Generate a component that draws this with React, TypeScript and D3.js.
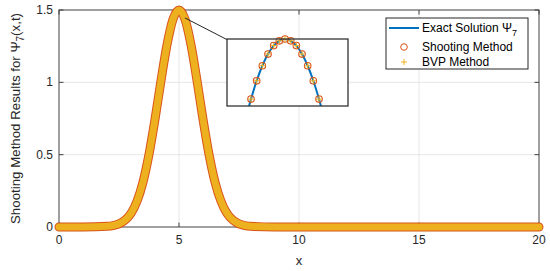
import React from "react";
import * as d3 from "d3";

// main curve (x, value)
const xVals = [0, 1, 2, 2.25, 2.5, 2.75, 3, 3.25, 3.5, 3.75, 4, 4.25, 4.5, 4.75, 5, 5.25, 5.5, 5.75, 6, 6.25, 6.5, 6.75, 7, 7.25, 7.5, 7.75, 8, 9, 10, 12, 14, 16, 18, 20];
const yVals = [0, 0.0003, 0.005, 0.01, 0.022, 0.047, 0.094, 0.178, 0.311, 0.502, 0.745, 1.012, 1.259, 1.436, 1.5, 1.436, 1.259, 1.012, 0.745, 0.502, 0.311, 0.178, 0.094, 0.047, 0.022, 0.01, 0.005, 0.0003, 0, 0, 0, 0, 0, 0];

// zoomed inset around the peak
const insetLineX = [4.8, 4.825, 4.85, 4.875, 4.9, 4.925, 4.95, 4.975, 5, 5.025, 5.05, 5.075, 5.1, 5.125, 5.15, 5.175, 5.2];
const insetLineY = [1.4592, 1.4682, 1.4764, 1.4836, 1.4895, 1.4941, 1.4974, 1.4993, 1.5, 1.4993, 1.4974, 1.4941, 1.4895, 1.4836, 1.4764, 1.4682, 1.4592];
const insetMarkX = [4.85, 4.875, 4.9, 4.925, 4.95, 4.975, 5, 5.025, 5.05, 5.075, 5.1, 5.125, 5.15];
const insetMarkY = [1.4764, 1.4836, 1.4895, 1.4941, 1.4974, 1.4993, 1.5, 1.4993, 1.4974, 1.4941, 1.4895, 1.4836, 1.4764];

const xTicks = [0, 5, 10, 15, 20];
const yTicks = [0, 0.5, 1, 1.5];
const yTickLabels = ["0", "0.5", "1", "1.5"];
const legendLabels = ["Exact Solution \u03A8", "Shooting Method", "BVP Method"];

// arrow from peak to inset (data units)
const arrowFrom = [5.25, 1.445];
const arrowTo = [8.08, 1.203];

const BLUE = "#0072BD";
const RED = "#D95319";
const YELLOW = "#EDB120";
const AX = "#404040";
const FONT = "'Liberation Sans', Arial, sans-serif";

export default function App() {
  const left = 59, right = 539, top = 10, bottom = 227;
  const x = d3.scaleLinear().domain([0, 20]).range([left, right]);
  const y = d3.scaleLinear().domain([0, 1.5]).range([bottom, top]);

  const pts = xVals.map((v, i) => [v, yVals[i]] as [number, number]);
  const line = d3
    .line<[number, number]>()
    .x((d) => x(d[0]))
    .y((d) => y(d[1]))
    .curve(d3.curveMonotoneX);
  const path = line(pts) || "";

  // inset axes
  const iL = 227, iR = 348, iT = 39, iB = 106;
  const ix = d3.scaleLinear().domain([4.744, 5.278]).range([iL, iR]);
  const iy = d3.scaleLinear().domain([1.4737, 1.5]).range([iB, iT]);
  const iLine = d3
    .line<[number, number]>()
    .x((d) => ix(d[0]))
    .y((d) => iy(d[1]))
    .curve(d3.curveCatmullRom);
  const iPath = iLine(insetLineX.map((v, i) => [v, insetLineY[i]] as [number, number])) || "";

  const ax1 = x(arrowFrom[0]), ay1 = y(arrowFrom[1]);
  const ax2 = x(arrowTo[0]), ay2 = y(arrowTo[1]);
  const ang = Math.atan2(ay2 - ay1, ax2 - ax1);
  const hl = 10, hw = 3.5;
  const bx = ax2 - hl * Math.cos(ang), by = ay2 - hl * Math.sin(ang);
  const head = [
    [ax2, ay2],
    [bx + hw * Math.sin(ang), by - hw * Math.cos(ang)],
    [bx - hw * Math.sin(ang), by + hw * Math.cos(ang)],
  ]
    .map((p) => p.join(","))
    .join(" ");

  const lgL = 386, lgR = 528, lgT = 18, lgB = 69;
  const rowY = [28, 47, 62];

  return (
    <svg width={550} height={271} style={{ position: "absolute", left: 0, top: 0 }} fontFamily={FONT}>
      <defs>
        <clipPath id="insetClip">
          <rect x={iL} y={iT} width={iR - iL} height={iB - iT} />
        </clipPath>
      </defs>
      <rect x={0} y={0} width={550} height={271} fill="#fff" />

      {/* grid */}
      {xTicks.slice(1, -1).map((t) => (
        <line key={"gx" + t} x1={x(t)} x2={x(t)} y1={top} y2={bottom} stroke="#e6e6e6" strokeWidth={1} />
      ))}
      {yTicks.slice(1, -1).map((t) => (
        <line key={"gy" + t} x1={left} x2={right} y1={y(t)} y2={y(t)} stroke="#e6e6e6" strokeWidth={1} />
      ))}

      {/* axes box and ticks */}
      <rect x={left} y={top} width={right - left} height={bottom - top} fill="none" stroke={AX} strokeWidth={1} />
      {xTicks.map((t) => (
        <g key={"xt" + t}>
          <line x1={x(t)} x2={x(t)} y1={bottom} y2={bottom - 4.5} stroke={AX} />
          <line x1={x(t)} x2={x(t)} y1={top} y2={top + 4.5} stroke={AX} />
          <text x={x(t)} y={bottom + 17} textAnchor="middle" fontSize={12} fill="#262626">
            {t}
          </text>
        </g>
      ))}
      {yTicks.map((t, i) => (
        <g key={"yt" + t}>
          <line x1={left} x2={left + 4.5} y1={y(t)} y2={y(t)} stroke={AX} />
          <line x1={right} x2={right - 4.5} y1={y(t)} y2={y(t)} stroke={AX} />
          <text x={left - 6} y={y(t) + 4} textAnchor="end" fontSize={12} fill="#262626">
            {yTickLabels[i]}
          </text>
        </g>
      ))}

      {/* series: exact line under the dense marker band */}
      <path d={path} fill="none" stroke={BLUE} strokeWidth={2} />
      <path d={path} fill="none" stroke={RED} strokeWidth={9} strokeLinecap="round" strokeLinejoin="round" />
      <path d={path} fill="none" stroke={YELLOW} strokeWidth={7} strokeLinecap="round" strokeLinejoin="round" />

      {/* labels */}
      <text x={x(10)} y={265} textAnchor="middle" fontSize={13} fill="#262626">
        x
      </text>
      <text transform={`translate(20,${(top + bottom) / 2}) rotate(-90)`} textAnchor="middle" fontSize={13.3} fill="#262626">
        Shooting Method Results for {"\u03A8"}
        <tspan fontSize={10} dy={4}>7</tspan>
        <tspan dy={-4}>(x,t)</tspan>
      </text>

      {/* arrow */}
      <line x1={ax1} y1={ay1} x2={bx} y2={by} stroke="#262626" strokeWidth={1} />
      <polygon points={head} fill="#262626" />

      {/* inset */}
      <rect x={iL} y={iT} width={iR - iL} height={iB - iT} fill="#fff" />
      <g clipPath="url(#insetClip)">
        <path d={iPath} fill="none" stroke={BLUE} strokeWidth={2} />
      </g>
      {insetMarkX.map((v, i) => (
        <circle key={"ic" + i} cx={ix(v)} cy={iy(insetMarkY[i])} r={3.3} fill="none" stroke={RED} strokeWidth={1.1} />
      ))}
      {insetMarkX.map((v, i) => (
        <path
          key={"ip" + i}
          d={`M${ix(v) - 3},${iy(insetMarkY[i])}h6M${ix(v)},${iy(insetMarkY[i]) - 3}v6`}
          stroke={YELLOW}
          strokeWidth={1}
        />
      ))}
      <rect x={iL} y={iT} width={iR - iL} height={iB - iT} fill="none" stroke="#333" strokeWidth={1.3} />

      {/* legend */}
      <rect x={lgL} y={lgT} width={lgR - lgL} height={lgB - lgT} fill="#fff" stroke="#262626" strokeWidth={1} />
      <line x1={389} x2={419} y1={rowY[0]} y2={rowY[0]} stroke={BLUE} strokeWidth={2} />
      <circle cx={404} cy={rowY[1]} r={3.3} fill="none" stroke={RED} strokeWidth={1} />
      <path d={`M401,${rowY[2]}h6M404,${rowY[2] - 3}v6`} stroke={YELLOW} strokeWidth={1} />
      {legendLabels.map((s, i) => (
        <text key={s} x={422} y={rowY[i] + 4} fontSize={12} fill="#000">
          {s}
          {i === 0 ? (
            <tspan fontSize={9} dy={4}>
              7
            </tspan>
          ) : null}
        </text>
      ))}
    </svg>
  );
}
